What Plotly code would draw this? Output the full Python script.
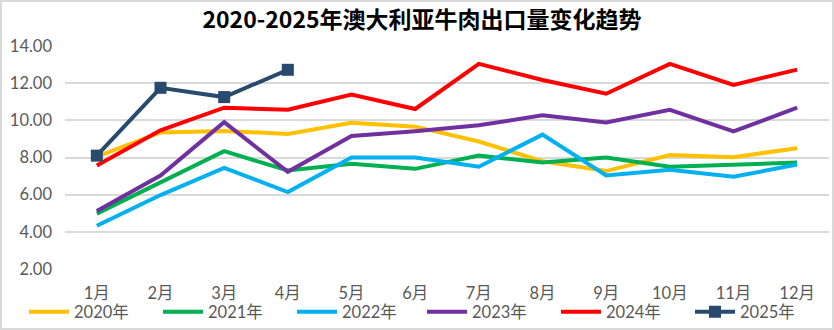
import plotly.graph_objects as go

months = ["1月", "2月", "3月", "4月", "5月", "6月", "7月", "8月", "9月", "10月", "11月", "12月"]
y2020 = [8.05, 9.35, 9.43, 9.27, 9.87, 9.66, 8.86, 7.80, 7.27, 8.13, 8.02, 8.50]
y2021 = [4.98, 6.67, 8.34, 7.30, 7.66, 7.39, 8.10, 7.73, 8.00, 7.50, 7.59, 7.73]
y2022 = [4.33, 5.98, 7.44, 6.14, 8.00, 8.00, 7.50, 9.23, 7.03, 7.34, 6.96, 7.62]
y2023 = [5.12, 7.03, 9.90, 7.23, 9.16, 9.41, 9.73, 10.27, 9.89, 10.57, 9.40, 10.68]
y2024 = [7.57, 9.46, 10.68, 10.57, 11.39, 10.61, 13.04, 12.17, 11.43, 13.04, 11.91, 12.73]
y2025 = [8.10, 11.75, 11.25, 12.72]

series = [
    ("2020年", y2020, "#FFC000", "legend"),
    ("2021年", y2021, "#00B050", "legend"),
    ("2022年", y2022, "#00B0F0", "legend"),
    ("2023年", y2023, "#7030A0", "legend2"),
    ("2024年", y2024, "#FF0000", "legend2"),
]

fig = go.Figure()
for name, vals, color, lg in series:
    fig.add_trace(go.Scatter(x=months[:len(vals)], y=vals, name=name, mode="lines",
                             line=dict(color=color, width=4), legend=lg))
fig.add_trace(go.Scatter(x=months[:len(y2025)], y=y2025, name="2025年", mode="lines+markers",
                         line=dict(color="#284A6E", width=4), legend="legend2",
                         marker=dict(symbol="square", size=12, color="#284A6E")))

W, H = 834, 330
ml, mr, mt, mb = 65, 5, 46, 61
tick_font = dict(family="Lato, 'Noto Sans CJK SC', sans-serif", size=16.5, color="#595959")

def legend_at(px):
    return dict(orientation="h", xref="container", yref="container",
                x=px / W, xanchor="left", y=1 - 312 / H, yanchor="middle",
                entrywidth=79, entrywidthmode="pixels",
                font=tick_font, itemwidth=40, tracegroupgap=0,
                bgcolor="rgba(0,0,0,0)")

fig.update_layout(
    width=W, height=H,
    margin=dict(l=ml, r=mr, t=mt, b=mb, autoexpand=False),
    paper_bgcolor="white", plot_bgcolor="white",
    title=dict(text="<b>2020-2025年澳大利亚牛肉出口量变化趋势</b>",
               x=0.506, xanchor="center", y=1 - 20 / H, yanchor="middle",
               font=dict(family="'Noto Sans CJK SC', sans-serif", size=23, color="#000000")),
    xaxis=dict(type="category", range=[-0.5, 11.5], showgrid=False,
               showline=False, zeroline=False, tickfont=tick_font,
               ticks="", ticklabelstandoff=12),
    yaxis=dict(range=[2, 14], dtick=2, tickformat=".2f", showgrid=True,
               gridcolor="#D9D9D9", gridwidth=1.5, zeroline=False, showline=False,
               tickfont=tick_font, ticklabelstandoff=12),
    legend=legend_at(24),
    legend2=legend_at(422),
    showlegend=True,
    shapes=[dict(type="rect", xref="paper", yref="paper",
                 x0=-ml / (W - ml - mr) + 1 / (W - ml - mr),
                 x1=1 + (mr - 1) / (W - ml - mr),
                 y0=-(mb - 1) / (H - mt - mb),
                 y1=1 + (mt - 1) / (H - mt - mb),
                 line=dict(color="#D9D9D9", width=2), layer="below")],
)

fig.write_html("out.html")
